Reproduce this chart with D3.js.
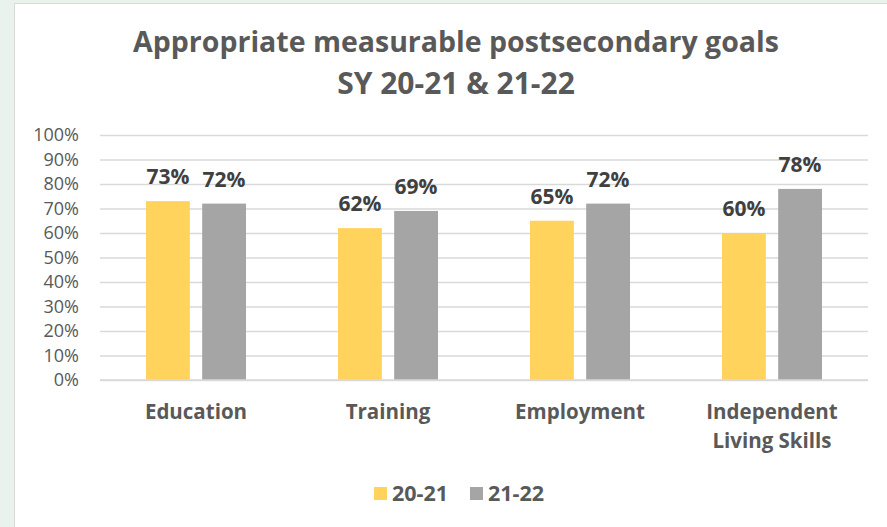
<!DOCTYPE html>
<html>
<head>
<meta charset="utf-8">
<script src="https://cdn.jsdelivr.net/npm/d3@7"></script>
<style>
  html, body { margin: 0; padding: 0; background: #e9f2ec; }
  svg { display: block; }
</style>
</head>
<body>
<svg id="chart" width="887" height="527"></svg>
<script>
// Chart data
const categories = ["Education", "Training", "Employment", "Independent\nLiving Skills"];
const seriesNames = ["20-21", "21-22"];
const values2021 = [73, 62, 65, 60];
const values2122 = [72, 69, 72, 78];
const yTicks = [0, 10, 20, 30, 40, 50, 60, 70, 80, 90, 100];
const titleLines = ["Appropriate measurable postsecondary goals", "SY 20-21 & 21-22"];

const colors = ["#ffd35c", "#a5a5a5"];
const font = "'Open Sans', sans-serif";

const svg = d3.select("#chart");

// white chart panel
svg.append("rect")
  .attr("x", 14.5).attr("y", 3.5)
  .attr("width", 880).attr("height", 530)
  .attr("fill", "#ffffff")
  .attr("stroke", "#d9d9d9").attr("stroke-width", 1);

const plot = { left: 100, right: 868, top: 135, bottom: 380 };

const x0 = d3.scaleBand()
  .domain(categories)
  .range([plot.left, plot.right])
  .paddingInner(0).paddingOuter(0);

const x1 = d3.scaleBand()
  .domain(seriesNames)
  .range([46, 146])
  .paddingInner(0.22).paddingOuter(0);

const y = d3.scaleLinear().domain([0, 100]).range([plot.bottom, plot.top]);

// gridlines + y labels
const yAxis = d3.axisLeft(y)
  .tickValues(yTicks)
  .tickSize(-(plot.right - plot.left))
  .tickPadding(21)
  .tickFormat(d => d + "%");

const gy = svg.append("g")
  .attr("transform", `translate(${plot.left},0)`)
  .call(yAxis);
gy.select(".domain").remove();
gy.selectAll(".tick line").attr("stroke", "#d9d9d9").attr("stroke-width", 1.3);
gy.selectAll(".tick text")
  .attr("fill", "#595959")
  .style("font-family", font)
  .style("font-size", "18px");

// bars
const data = categories.map((c, i) => ({ cat: c, vals: [values2021[i], values2122[i]] }));

const groups = svg.append("g").selectAll("g")
  .data(data).join("g")
  .attr("transform", d => `translate(${x0(d.cat)},0)`);

groups.selectAll("rect")
  .data(d => d.vals.map((v, j) => ({ v, s: seriesNames[j], j })))
  .join("rect")
  .attr("x", d => x1(d.s))
  .attr("width", x1.bandwidth())
  .attr("y", d => y(d.v))
  .attr("height", d => y(0) - y(d.v))
  .attr("fill", d => colors[d.j]);

groups.selectAll("text.val")
  .data(d => d.vals.map((v, j) => ({ v, s: seriesNames[j], j })))
  .join("text")
  .attr("class", "val")
  .attr("x", d => x1(d.s) + x1.bandwidth() / 2)
  .attr("y", d => y(d.v) - 17)
  .attr("text-anchor", "middle")
  .attr("fill", "#404040")
  .style("font-family", font)
  .style("font-weight", "bold")
  .style("font-size", "21px")
  .text(d => d.v + "%");

// baseline
svg.append("line")
  .attr("x1", plot.left).attr("x2", plot.right)
  .attr("y1", y(0)).attr("y2", y(0))
  .attr("stroke", "#d9d9d9").attr("stroke-width", 1.3);

// category labels
const catLabels = svg.append("g").selectAll("text")
  .data(categories).join("text")
  .attr("x", d => x0(d) + x0.bandwidth() / 2)
  .attr("y", 419)
  .attr("text-anchor", "middle")
  .attr("fill", "#595959")
  .style("font-family", font)
  .style("font-weight", "bold")
  .style("font-size", "20.5px");
catLabels.each(function(d) {
  const lines = d.split("\n");
  d3.select(this).selectAll("tspan").data(lines).join("tspan")
    .attr("x", x0(d) + x0.bandwidth() / 2)
    .attr("dy", (l, i) => i === 0 ? 0 : 29)
    .text(l => l);
});

// title
svg.append("text")
  .attr("x", 456).attr("y", 52)
  .attr("text-anchor", "middle")
  .attr("fill", "#595959")
  .style("font-family", font)
  .style("font-weight", "bold")
  .style("font-size", "28.5px")
  .selectAll("tspan").data(titleLines).join("tspan")
  .attr("x", 456)
  .attr("dy", (d, i) => i === 0 ? 0 : 42)
  .style("font-size", (d, i) => i === 0 ? "28.5px" : "30px")
  .text(d => d);

// legend
const legendX = [374, 470];
const legend = svg.append("g").selectAll("g")
  .data(seriesNames).join("g")
  .attr("transform", (d, i) => `translate(${legendX[i]},487)`);
legend.append("rect")
  .attr("width", 13).attr("height", 13)
  .attr("fill", (d, i) => colors[i]);
legend.append("text")
  .attr("x", 18).attr("y", 13.5)
  .attr("fill", "#595959")
  .style("font-family", font)
  .style("font-weight", "bold")
  .style("font-size", "21.5px")
  .text(d => d);
</script>
</body>
</html>
